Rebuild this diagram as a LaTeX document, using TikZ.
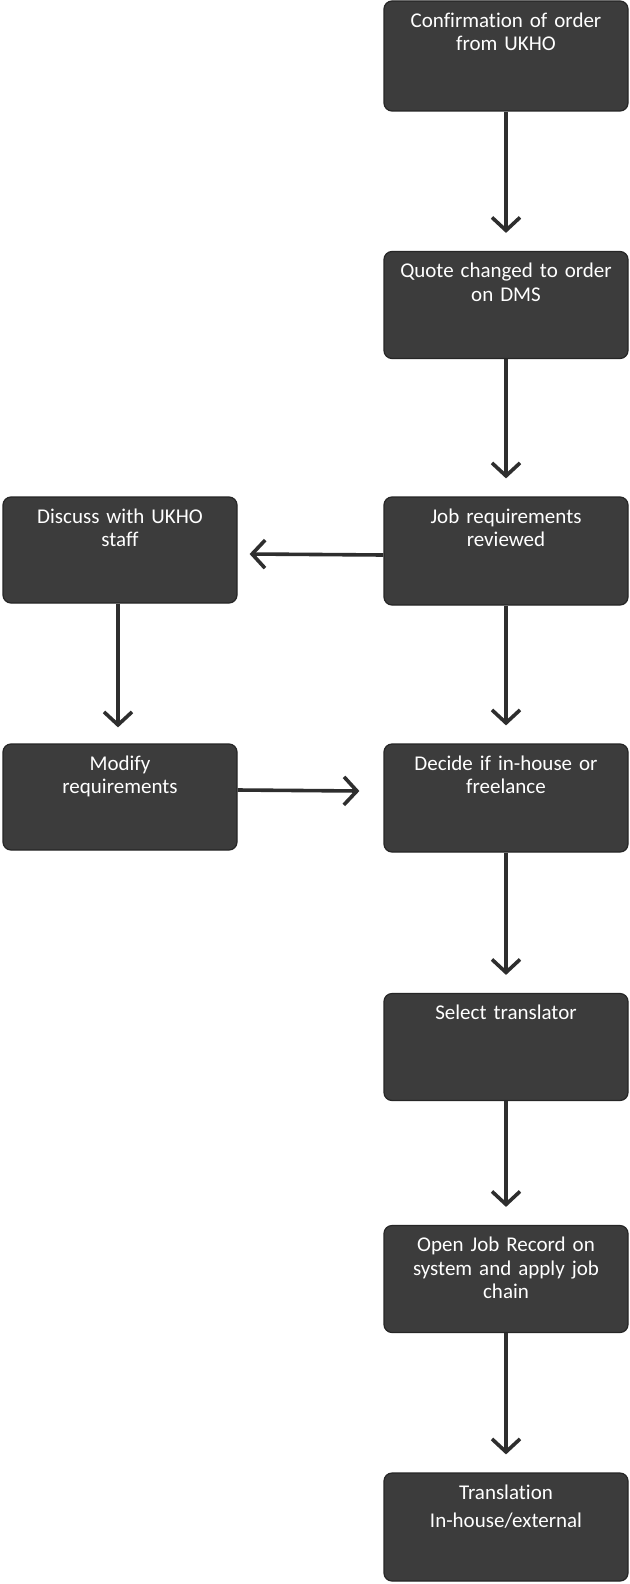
\documentclass[tikz,border=0pt]{standalone}
\usepackage{fontspec}
\setmainfont{Carlito}[Ligatures=NoCommon]
\usetikzlibrary{arrows.meta}
\definecolor{boxfill}{HTML}{3C3C3C}
\definecolor{boxline}{HTML}{262626}
\definecolor{arrowcol}{HTML}{2E2E2E}
\tikzset{
  stepbox/.style={draw=boxline, line width=1.2pt, fill=boxfill, rounded corners=8pt, inner sep=0pt},
  boxtext/.style={text=white, align=center, font=\fontsize{21}{23.5}\selectfont, anchor=north, inner sep=0pt, text width=235pt},
  flow/.style={draw=arrowcol, line width=3.6pt, -{Straight Barb[length=13pt,width=28pt,line width=3.6pt]}}
}
\begin{document}
\begin{tikzpicture}[x=1pt,y=-1pt]
\useasboundingbox (0,0) rectangle (629,1584);
\fill[white] (0,0) rectangle (629,1584);
% right column boxes
\node[stepbox, minimum width=244pt, minimum height=110pt] (b1) at (506,56) {};
\node[stepbox, minimum width=244pt, minimum height=107pt] (b2) at (506,305) {};
\node[stepbox, minimum width=244pt, minimum height=108pt] (b3) at (506,551) {};
\node[stepbox, minimum width=244pt, minimum height=108pt] (b4) at (506,798) {};
\node[stepbox, minimum width=244pt, minimum height=107pt] (b5) at (506,1047) {};
\node[stepbox, minimum width=244pt, minimum height=107pt] (b6) at (506,1279) {};
\node[stepbox, minimum width=244pt, minimum height=108pt] (b7) at (506,1527) {};
% left boxes
\node[stepbox, minimum width=234pt, minimum height=106pt] (l1) at (120,550) {};
\node[stepbox, minimum width=234pt, minimum height=106pt] (l2) at (120,797) {};
% texts
\node[boxtext] (t1) at ([yshift=-12pt]b1.north) {Confirmation of order\\from UKHO};
\node[boxtext] (t2) at ([yshift=-12pt]b2.north) {Quote changed to order\\on DMS};
\node[boxtext] (t3) at ([yshift=-12pt]b3.north) {Job requirements\\reviewed};
\node[boxtext] (t4) at ([yshift=-12pt]b4.north) {Decide if in-house or\\freelance};
\node[boxtext] (t5) at ([yshift=-12pt]b5.north) {Select translator};
\node[boxtext] (t6) at ([yshift=-12pt]b6.north) {Open Job Record on\\system and apply job\\chain};
\node[boxtext, font=\fontsize{21}{28}\selectfont] (t7) at ([yshift=-12pt]b7.north) {Translation\\In-house/external};
\node[boxtext] (t8) at ([yshift=-12pt]l1.north) {Discuss with UKHO\\staff};
\node[boxtext] (t9) at ([yshift=-12pt]l2.north) {Modify\\requirements};
% connectors
\draw[flow] (b1.south) -- ([yshift=18pt]b2.north);
\draw[flow] (b2.south) -- ([yshift=18pt]b3.north);
\draw[flow] (b3.south) -- ([yshift=18pt]b4.north);
\draw[flow] (b4.south) -- ([yshift=18pt]b5.north);
\draw[flow] (b5.south) -- ([yshift=18pt]b6.north);
\draw[flow] (b6.south) -- ([yshift=18pt]b7.north);
\draw[flow] ([yshift=-4pt]b3.west) -- ([xshift=12pt,yshift=-4pt]l1.east);
\draw[flow] ([xshift=-2pt]l1.south) -- ([xshift=-2pt,yshift=16pt]l2.north);
\draw[flow] ([yshift=7pt]l2.east) -- ([xshift=-24pt,yshift=7pt]b4.west);
\end{tikzpicture}
\end{document}
